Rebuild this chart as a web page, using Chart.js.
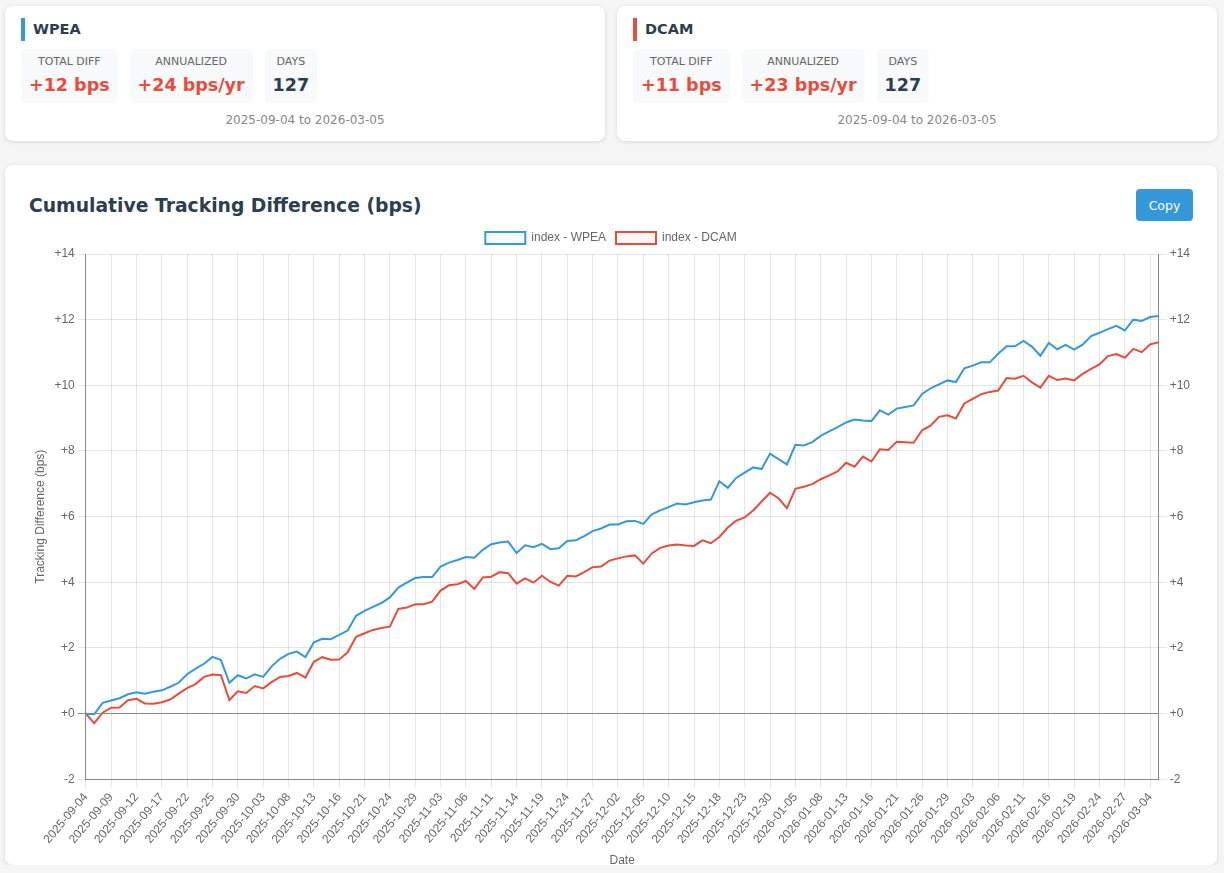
<!DOCTYPE html>
<html>
<head>
<meta charset="utf-8">
<title>Tracking Difference</title>
<script src="https://cdn.jsdelivr.net/npm/chart.js@4.4.1/dist/chart.umd.min.js"></script>
<style>
    * { box-sizing: border-box; }
    body {
        margin: 0;
        padding: 6px 0 0 5px;
        background: #f5f5f5;
        font-family: "DejaVu Sans", sans-serif;
        color: #2c3e50;
    }
    .cards {
        display: flex;
        gap: 12px;
        width: 1212px;
    }
    .card {
        background: #fff;
        border-radius: 8px;
        box-shadow: 0 1px 4px rgba(0, 0, 0, 0.12);
    }
    .etf {
        width: 600px;
        height: 135px;
        padding: 12px 16px 0;
    }
    .etf h3 {
        margin: 0 0 8px;
        font-size: 14.5px;
        line-height: 23px;
        padding-left: 8px;
        border-left: 4px solid #3498db;
    }
    .etf.red h3 { border-left-color: #e74c3c; }
    .stats { display: flex; gap: 12px; }
    .stat {
        background: #f8f9fa;
        border-radius: 5px;
        padding: 6px 8px 8px;
        text-align: center;
    }
    .stat .lbl {
        font-size: 11px;
        line-height: 14px;
        color: #666;
    }
    .stat .val {
        margin-top: 6px;
        font-size: 17.5px;
        line-height: 20px;
        font-weight: bold;
        color: #e74c3c;
    }
    .stat .val.plain { color: #2c3e50; }
    .range {
        margin-top: 9px;
        text-align: center;
        font-size: 12px;
        line-height: 16px;
        color: #888;
    }
    .chart-card {
        margin-top: 24px;
        width: 1212px;
        height: 700px;
        padding: 24px 24px 0;
    }
    .head {
        display: flex;
        justify-content: space-between;
        align-items: center;
        height: 32px;
    }
    .head h2 {
        margin: 0;
        font-size: 18.75px;
        font-weight: bold;
    }
    .head button {
        font-family: "DejaVu Sans", sans-serif;
        font-size: 12.5px;
        color: #fff;
        background: #3498db;
        border: none;
        border-radius: 4px;
        width: 57px;
        height: 32px;
    }
    .wrap {
        position: relative;
        margin-top: 1px;
        height: 650px;
    }
</style>
</head>
<body>

<div class="cards">
    <div class="card etf">
        <h3>WPEA</h3>
        <div class="stats">
            <div class="stat"><div class="lbl">TOTAL DIFF</div><div class="val">+12 bps</div></div>
            <div class="stat"><div class="lbl">ANNUALIZED</div><div class="val">+24 bps/yr</div></div>
            <div class="stat"><div class="lbl">DAYS</div><div class="val plain">127</div></div>
        </div>
        <div class="range">2025-09-04 to 2026-03-05</div>
    </div>
    <div class="card etf red">
        <h3>DCAM</h3>
        <div class="stats">
            <div class="stat"><div class="lbl">TOTAL DIFF</div><div class="val">+11 bps</div></div>
            <div class="stat"><div class="lbl">ANNUALIZED</div><div class="val">+23 bps/yr</div></div>
            <div class="stat"><div class="lbl">DAYS</div><div class="val plain">127</div></div>
        </div>
        <div class="range">2025-09-04 to 2026-03-05</div>
    </div>
</div>

<div class="card chart-card">
    <div class="head">
        <h2>Cumulative Tracking Difference (bps)</h2>
        <button>Copy</button>
    </div>
    <div class="wrap"><canvas id="tdChart"></canvas></div>
</div>

<script>
const dates = [
    '2025-09-04', '2025-09-05', '2025-09-08', '2025-09-09', '2025-09-10', '2025-09-11', '2025-09-12', '2025-09-15',
    '2025-09-16', '2025-09-17', '2025-09-18', '2025-09-19', '2025-09-22', '2025-09-23', '2025-09-24', '2025-09-25',
    '2025-09-26', '2025-09-29', '2025-09-30', '2025-10-01', '2025-10-02', '2025-10-03', '2025-10-06', '2025-10-07',
    '2025-10-08', '2025-10-09', '2025-10-10', '2025-10-13', '2025-10-14', '2025-10-15', '2025-10-16', '2025-10-17',
    '2025-10-20', '2025-10-21', '2025-10-22', '2025-10-23', '2025-10-24', '2025-10-27', '2025-10-28', '2025-10-29',
    '2025-10-30', '2025-10-31', '2025-11-03', '2025-11-04', '2025-11-05', '2025-11-06', '2025-11-07', '2025-11-10',
    '2025-11-11', '2025-11-12', '2025-11-13', '2025-11-14', '2025-11-17', '2025-11-18', '2025-11-19', '2025-11-20',
    '2025-11-21', '2025-11-24', '2025-11-25', '2025-11-26', '2025-11-27', '2025-11-28', '2025-12-01', '2025-12-02',
    '2025-12-03', '2025-12-04', '2025-12-05', '2025-12-08', '2025-12-09', '2025-12-10', '2025-12-11', '2025-12-12',
    '2025-12-15', '2025-12-16', '2025-12-17', '2025-12-18', '2025-12-19', '2025-12-22', '2025-12-23', '2025-12-24',
    '2025-12-29', '2025-12-30', '2025-12-31', '2026-01-02', '2026-01-05', '2026-01-06', '2026-01-07', '2026-01-08',
    '2026-01-09', '2026-01-12', '2026-01-13', '2026-01-14', '2026-01-15', '2026-01-16', '2026-01-19', '2026-01-20',
    '2026-01-21', '2026-01-22', '2026-01-23', '2026-01-26', '2026-01-27', '2026-01-28', '2026-01-29', '2026-01-30',
    '2026-02-02', '2026-02-03', '2026-02-04', '2026-02-05', '2026-02-06', '2026-02-09', '2026-02-10', '2026-02-11',
    '2026-02-12', '2026-02-13', '2026-02-16', '2026-02-17', '2026-02-18', '2026-02-19', '2026-02-20', '2026-02-23',
    '2026-02-24', '2026-02-25', '2026-02-26', '2026-02-27', '2026-03-02', '2026-03-03', '2026-03-04', '2026-03-05'
];

// cumulative tracking difference, bps
const wpea = [
    0.00, -0.02, 0.33, 0.40, 0.47, 0.59, 0.65, 0.61, 0.67, 0.71, 0.82, 0.94, 1.20, 1.37, 1.52, 1.73,
    1.63, 0.94, 1.17, 1.07, 1.20, 1.12, 1.44, 1.67, 1.82, 1.89, 1.72, 2.17, 2.28, 2.27, 2.40, 2.53,
    2.98, 3.13, 3.25, 3.37, 3.54, 3.84, 3.99, 4.13, 4.16, 4.16, 4.48, 4.60, 4.68, 4.77, 4.75, 4.99,
    5.16, 5.21, 5.24, 4.89, 5.13, 5.07, 5.17, 5.01, 5.04, 5.26, 5.28, 5.41, 5.56, 5.64, 5.76, 5.76,
    5.86, 5.87, 5.78, 6.07, 6.19, 6.29, 6.40, 6.37, 6.44, 6.49, 6.52, 7.08, 6.88, 7.18, 7.34, 7.50,
    7.45, 7.92, 7.75, 7.59, 8.19, 8.17, 8.27, 8.46, 8.60, 8.73, 8.87, 8.96, 8.93, 8.91, 9.24, 9.11,
    9.29, 9.34, 9.39, 9.74, 9.91, 10.03, 10.15, 10.10, 10.52, 10.60, 10.70, 10.70, 10.96, 11.19, 11.19, 11.35,
    11.18, 10.90, 11.29, 11.10, 11.23, 11.09, 11.24, 11.50, 11.60, 11.71, 11.81, 11.67, 12.00, 11.96, 12.08, 12.11
];

const dcam = [
    0.00, -0.29, 0.03, 0.18, 0.19, 0.41, 0.45, 0.31, 0.30, 0.35, 0.43, 0.61, 0.78, 0.90, 1.12, 1.19,
    1.17, 0.41, 0.68, 0.63, 0.84, 0.77, 0.96, 1.12, 1.15, 1.24, 1.10, 1.58, 1.72, 1.64, 1.65, 1.87,
    2.34, 2.45, 2.55, 2.61, 2.65, 3.19, 3.23, 3.33, 3.33, 3.41, 3.75, 3.91, 3.94, 4.04, 3.80, 4.15,
    4.17, 4.31, 4.28, 3.96, 4.12, 3.99, 4.20, 4.01, 3.90, 4.20, 4.18, 4.31, 4.46, 4.48, 4.66, 4.73,
    4.79, 4.82, 4.57, 4.88, 5.05, 5.12, 5.15, 5.12, 5.11, 5.28, 5.19, 5.38, 5.67, 5.88, 5.98, 6.19,
    6.46, 6.73, 6.56, 6.26, 6.85, 6.91, 6.99, 7.14, 7.26, 7.38, 7.64, 7.52, 7.83, 7.68, 8.05, 8.03,
    8.28, 8.27, 8.25, 8.63, 8.77, 9.04, 9.09, 8.99, 9.45, 9.59, 9.73, 9.80, 9.84, 10.22, 10.20, 10.29,
    10.09, 9.93, 10.29, 10.16, 10.21, 10.15, 10.35, 10.50, 10.64, 10.89, 10.95, 10.84, 11.11, 11.01, 11.25, 11.31
];

const yMin = -2;
const yMax = 14;
const yStep = 2;

const signed = (v) => (v >= 0 ? '+' : '') + v;
const axisGrey = '#888';
const gridGrey = 'rgba(0, 0, 0, 0.1)';

const ctx = document.getElementById('tdChart');

new Chart(ctx, {
    type: 'line',
    data: {
        labels: dates,
        datasets: [{
            label: 'index - WPEA',
            data: wpea,
            borderColor: '#3498db',
            backgroundColor: 'rgba(52, 152, 219, 0.05)',
            borderWidth: 2,
            pointRadius: 0,
            fill: false,
        }, {
            label: 'index - DCAM',
            data: dcam,
            borderColor: '#e74c3c',
            backgroundColor: 'rgba(231, 76, 60, 0.05)',
            borderWidth: 2,
            pointRadius: 0,
            fill: false,
        }]
    },
    options: {
        responsive: true,
        maintainAspectRatio: false,
        animation: false,
        plugins: {
            legend: { position: 'top' }
        },
        scales: {
            x: {
                title: { display: true, text: 'Date' },
                border: { color: axisGrey },
                ticks: {
                    autoSkip: false,
                    minRotation: 50,
                    maxRotation: 50,
                    callback: function (val, i) {
                        return i % 3 === 0 ? this.getLabelForValue(val) : null;
                    }
                }
            },
            y: {
                min: yMin,
                max: yMax,
                title: { display: true, text: 'Tracking Difference (bps)' },
                border: { color: axisGrey },
                grid: {
                    color: (c) => (c.tick && c.tick.value === 0 ? axisGrey : gridGrey)
                },
                ticks: { stepSize: yStep, callback: signed }
            },
            y1: {
                position: 'right',
                min: yMin,
                max: yMax,
                border: { color: axisGrey },
                grid: { drawOnChartArea: false },
                ticks: { stepSize: yStep, callback: signed }
            }
        }
    }
});
</script>
</body>
</html>
